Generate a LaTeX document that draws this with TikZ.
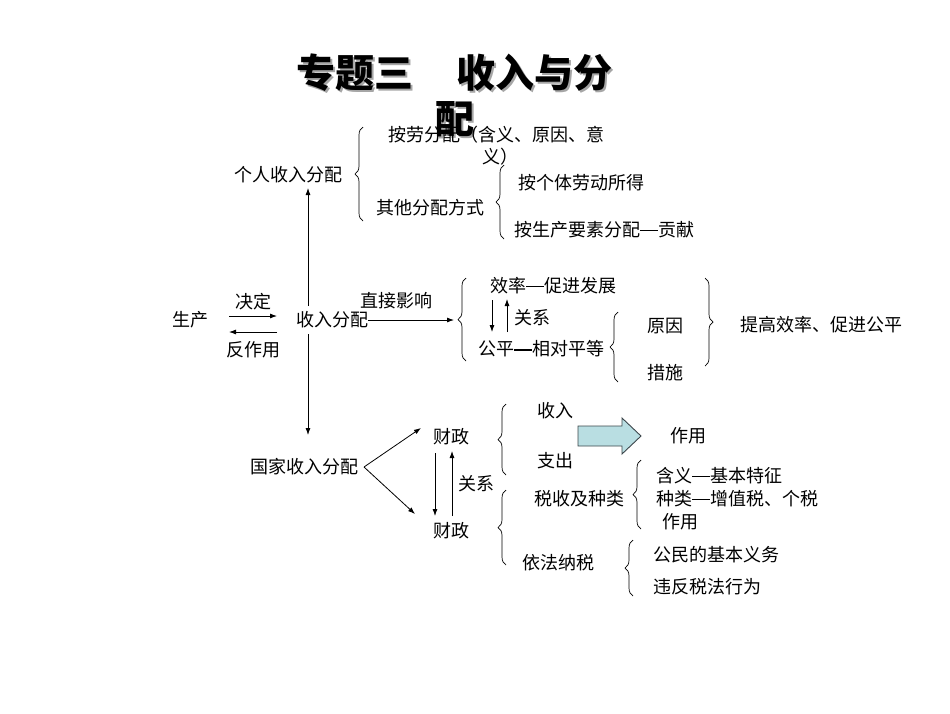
\documentclass[tikz,border=0pt]{standalone}
\usepackage{fontspec}
\setmainfont{Noto Sans CJK SC}
\usetikzlibrary{arrows.meta,decorations.pathreplacing}
\definecolor{arrowfill}{RGB}{185,222,226}
\definecolor{arrowedge}{RGB}{60,70,75}
\newcommand{\dbar}{\rule[0.3em]{1em}{1.4pt}}
\tikzset{
  txt/.style={inner sep=0pt,anchor=west,font=\fontsize{18}{21}\selectfont},
  ttl/.style={inner sep=0pt,font=\fontsize{39}{42}\selectfont\bfseries},
  conn/.style={line width=0.8pt,-{Latex[length=7pt,width=5pt]}},
  brc/.style={line width=0.7pt,decorate,decoration={brace,amplitude=8pt}},
}
\begin{document}
\begin{tikzpicture}[x=1pt,y=-1pt]
\useasboundingbox (0,0) rectangle (950,713);
% title with shadow
\node[ttl,text=gray!70] at (357,75) {专题三};
\node[ttl,text=gray!70] at (536,75) {收入与分};
\node[ttl,text=gray!70] at (457,121) {配};
\node[ttl] (t1) at (355,73) {专题三};
\node[ttl] (t2) at (534,73) {收入与分};
\node[ttl] (t3) at (455,119) {配};
% upper part
\node[txt] (andl) at (388,135) {按劳分配（含义、原因、意};
\node[txt] (yi) at (482,157) {义）};
\node[txt] (grsr) at (234,175) {个人收入分配};
\node[txt] (qtfp) at (376,208) {其他分配方式};
\node[txt] (agt) at (518,183) {按个体劳动所得};
\node[txt] (asc) at (514,230) {按生产要素分配\dbar 贡献};
\draw[brc] (363,221) -- (363,127);
\draw[brc] (504,239) -- (504,165);
% middle
\node[txt] (sc) at (172,320) {生产};
\node[txt,anchor=center] (jd) at (253,302) {决定};
\node[txt,anchor=center] (fzy) at (253,350) {反作用};
\node[txt] (srfp) at (296,320) {收入分配};
\node[txt] (zjyx) at (360,301) {直接影响};
\node[txt] (xl) at (490,286) {效率\dbar 促进发展};
\node[txt] (gx1) at (514,318) {关系};
\node[txt] (gp) at (478,349) {公平\dbar 相对平等};
\node[txt] (yy) at (647,326) {原因};
\node[txt] (cs) at (647,373) {措施};
\node[txt] (tg) at (740,325) {提高效率、促进公平};
\draw[brc] (466,361) -- (466,278);
\draw[brc] (618,382) -- (618,312);
\draw[brc] (705,278) -- (705,366);
\coordinate (a1s) at (229,316); \coordinate (a1e) at (277,316);
\coordinate (a2s) at (277,332); \coordinate (a2e) at (229,332);
\draw[conn] (a1s) -- (a1e);
\draw[conn] (a2s) -- (a2e);
\coordinate (bb) at (454,320);
\draw[conn] (srfp.east) -- (bb);
\coordinate (vt) at (308,306); \coordinate (vtop) at (308,188);
\coordinate (vb) at (308,334); \coordinate (vbot) at (308,435);
\draw[conn] (vt) -- (vtop);
\draw[conn] (vb) -- (vbot);
\coordinate (d1s) at (492,300); \coordinate (d1e) at (492,332);
\coordinate (u1s) at (507,332); \coordinate (u1e) at (507,299);
\draw[conn] (d1s) -- (d1e);
\draw[conn] (u1s) -- (u1e);
% lower part
\node[txt] (gj) at (250,467) {国家收入分配};
\node[txt] (cz1) at (433,437) {财政};
\node[txt] (cz2) at (433,531) {财政};
\node[txt] (gx2) at (458,484) {关系};
\node[txt] (sr) at (537,411) {收入};
\node[txt] (zc) at (537,461) {支出};
\node[txt] (zy) at (670,436) {作用};
\node[txt] (ss) at (534,499) {税收及种类};
\node[txt] (hy) at (656,476) {含义\dbar 基本特征};
\node[txt] (zl) at (656,499) {种类\dbar 增值税、个税};
\node[txt] (zy2) at (662,522) {作用};
\node[txt] (yf) at (522,563) {依法纳税};
\node[txt] (gm) at (653,555) {公民的基本义务};
\node[txt] (wf) at (653,587) {违反税法行为};
\coordinate (fork) at (364,467);
\coordinate (f1) at (421,428);
\coordinate (f2) at (415,514);
\draw[conn] (fork) -- (f1);
\draw[conn] (fork) -- (f2);
\coordinate (d2s) at (435,453); \coordinate (d2e) at (435,516);
\coordinate (u2s) at (452,516); \coordinate (u2e) at (452,451);
\draw[conn] (d2s) -- (d2e);
\draw[conn] (u2s) -- (u2e);
\draw[brc] (506,475) -- (506,404);
\draw[brc] (506,565) -- (506,490);
\draw[brc] (641,529) -- (641,460);
\draw[brc] (633,596) -- (633,540);
\draw[line width=0.9pt,draw=arrowedge,fill=arrowfill]
  (578,426) -- (622,426) -- (622,418) -- (641,436) -- (622,454) -- (622,446) -- (578,446) -- cycle;
\end{tikzpicture}
\end{document}
